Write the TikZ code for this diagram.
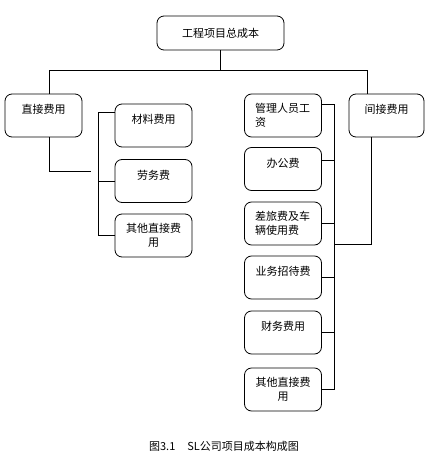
\documentclass[tikz,border=0pt]{standalone}
\usepackage{fontspec}
\setmainfont{Noto Sans CJK SC}
\usepackage{tikz}

\begin{document}
\begin{tikzpicture}[x=1pt, y=-1pt, line width=0.8pt,
    every node/.style={font=\fontsize{11pt}{14pt}\selectfont},
    costbox/.style={draw, rounded corners=7pt, inner sep=0pt,
      minimum width=77pt, minimum height=43pt, align=center},
    oneline/.style={costbox, text height=9pt, text depth=13pt},
    twoline/.style={costbox, text width=56pt}]
  \useasboundingbox (0,0) rectangle (431,468);

  % Top box
  \node[costbox, minimum width=127pt, minimum height=34pt] (total) at (220.5,33) {工程项目总成本};

  % Direct and indirect cost
  \node[oneline] (direct) at (43.5,115.5) {直接费用};
  \node[oneline, minimum width=75pt] (indirect) at (386.5,115.5) {间接费用};

  % Direct cost items
  \node[oneline] (material) at (153.5,125.5) {材料费用};
  \node[oneline] (labor) at (153.5,181) {劳务费};
  \node[twoline, align=center] (otherdirect) at (153.5,235.5) {其他直接费\\用};

  % Indirect cost items
  \node[twoline, align=left] (staff) at (283,115.5) {管理人员工\\资};
  \node[oneline] (office) at (283,169) {办公费};
  \node[twoline, align=left] (travel) at (283,223.5) {差旅费及车\\辆使用费};
  \node[oneline] (hosting) at (283,277.5) {业务招待费};
  \node[oneline] (finance) at (283,332.5) {财务费用};
  \node[twoline, align=center] (otherindirect) at (283,389.5) {其他直接费\\用};

  % Top level connectors
  \coordinate (busL) at (49,70);
  \coordinate (busR) at (367,70);
  \draw (total.south) -- (total.south |- busL);
  \draw (direct.north -| busL) -- (busL) -- (busR) -- (indirect.north -| busR);

  % Direct cost bus
  \coordinate (dirend) at (91,171);
  \coordinate (lbus) at (98,112);
  \draw (direct.south -| busL) |- (dirend);
  \draw (material.west |- lbus) -- (lbus) |- (otherdirect.west);
  \draw (labor.west) -- (labor.west -| lbus);

  % Indirect cost bus
  \coordinate (rbus) at (334,104);
  \coordinate (indturn) at (371,244);
  \draw ([yshift=11.5pt]staff.east) -- (rbus) |- (otherindirect.east);
  \draw ([yshift=9pt]office.east) -- ([yshift=9pt]office.east -| rbus);
  \foreach \n in {travel, hosting, finance}
    \draw (\n.east) -- (\n.east -| rbus);
  \draw (indirect.south -| indturn) -- (indturn) -- (indturn -| rbus);

  % Caption
  \node (caption) at (224,446) {图3.1\hspace{12pt}SL公司项目成本构成图};
\end{tikzpicture}
\end{document}
